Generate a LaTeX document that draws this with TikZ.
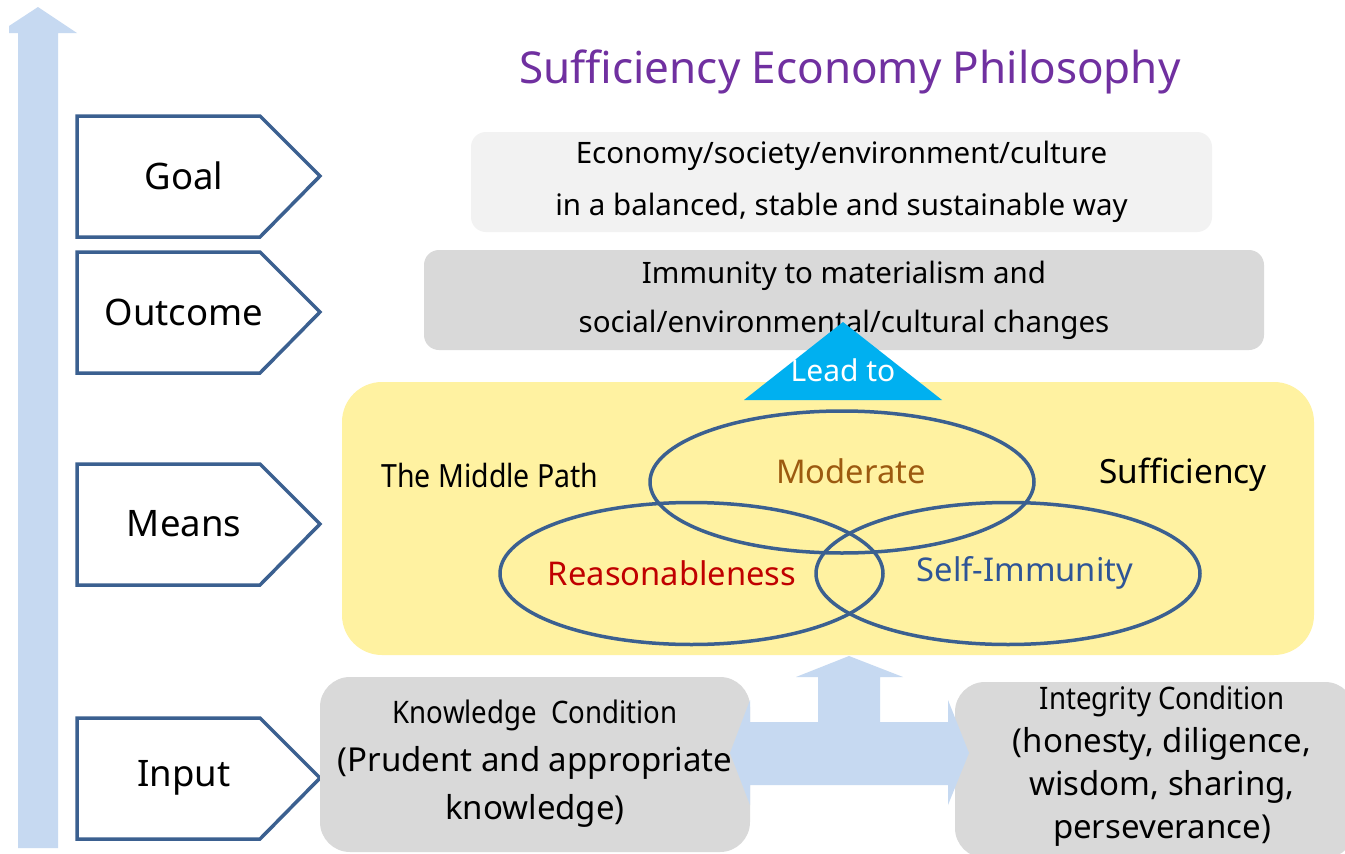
\documentclass[tikz,border=0pt]{standalone}
\usepackage{fontspec}
\setmainfont{Noto Sans}
\newfontfamily\condfont[FakeStretch=0.89]{Noto Sans}
\definecolor{flowblue}{HTML}{C6D9F1}
\definecolor{stepline}{HTML}{3B6090}
\definecolor{goalgrey}{HTML}{F2F2F2}
\definecolor{boxgrey}{HTML}{D9D9D9}
\definecolor{meansyellow}{HTML}{FFF2A1}
\definecolor{leadblue}{HTML}{00B0F0}
\definecolor{titlepurple}{HTML}{7030A0}
\definecolor{modbrown}{HTML}{9C5A10}
\definecolor{reasonred}{HTML}{C00000}
\definecolor{selfblue}{HTML}{2F5597}
\newcommand{\fs}[2]{\fontsize{#1}{#2}\selectfont}
\tikzset{
  stagebox/.style={draw=stepline, line width=3.5pt, fill=white, line join=miter},
  stagetext/.style={font=\fs{36.5}{42}, text=black},
  infobox/.style={rounded corners=15pt, align=center, inner sep=0pt},
  circ/.style={draw=stepline, line width=3.5pt},
  circlabel/.style={font=\fs{32.7}{36}},
}
\begin{document}
\begin{tikzpicture}[x=1pt, y=-1pt]
\useasboundingbox (0,0) rectangle (1345,854);
\fill[white] (0,0) rectangle (1345,854);

% rising arrow on the left
\fill[flowblue] (18,848) -- (18,33) -- (9,33) -- (9,26) -- (38,7) -- (77,33)
  -- (58,33) -- (58,848) -- cycle;

% stage markers
\foreach \nm/\cy/\lab in {goalstage/176/Goal, outstage/312/Outcome, meansstage/524/Means, inputstage/778/Input}{
  \draw[stagebox] (77,\cy-60) -- (260,\cy-60) -- (320,\cy) -- (260,\cy+61) -- (77,\cy+61) -- cycle;
  \node[stagetext] (\nm) at (184,\cy) {\lab};
}

% title
\node[font=\fs{44}{52}, text=titlepurple] (title) at (850,72) {Sufficiency Economy Philosophy};

% goal and outcome boxes
\node[infobox, fill=goalgrey, minimum width=741, minimum height=100, font=\fs{29.5}{52}] (goal) at (841.5,182)
  {Economy/society/environment/culture\\in a balanced, stable and sustainable way};
\node[infobox, fill=boxgrey, minimum width=840, minimum height=100, font=\fs{29.5}{49}] (outcome) at (844,300)
  {Immunity to materialism and\\social/environmental/cultural changes};

% means panel
\node[rounded corners=40pt, fill=meansyellow, minimum width=972, minimum height=273, inner sep=0pt] (means) at (828,518.5) {};

% lead-to triangle
\fill[leadblue] (744,400) -- (843,322) -- (942,400) -- cycle;
\node[font=\fs{30}{34}, text=white] (leadto) at (843,370) {Lead to};

% the three overlapping conditions
\draw[circ] (842,482) ellipse [x radius=192, y radius=71];
\draw[circ] (691.5,573.5) ellipse [x radius=191.5, y radius=71];
\draw[circ] (1008,573.5) ellipse [x radius=192, y radius=71];
\node[circlabel, text=modbrown] (moderate) at (851,471) {Moderate};
\node[circlabel, text=reasonred] (reason) at (672,573) {Reasonableness};
\node[circlabel, text=selfblue] (selfimm) at (1025,573) {Self-Immunity};
\node[font=\condfont\fs{32}{36}] (middle) at (490,475) {The Middle Path};
\node[font=\fs{33.4}{38}] (suff) at (1183,475) {Sufficiency};

% input conditions
\node[rounded corners=30pt, fill=boxgrey, minimum width=430, minimum height=175, inner sep=0pt] (knowbox) at (535,764.5) {};
\node[align=center, font=\fs{33}{48}] (knowtext) at (535,764)
  {{\condfont\fs{31}{48}Knowledge\ \ Condition}\\(Prudent and appropriate\\knowledge)};
\node[rounded corners=30pt, fill=boxgrey, minimum width=400, minimum height=176, inner sep=0pt] (intbox) at (1155,770) {};
\node[align=center, font=\fs{33}{43}] (inttext) at (1162,766)
  {{\condfont\fs{31}{43}Integrity Condition}\\(honesty, diligence,\\wisdom, sharing,\\perseverance)};

% branching arrow between the conditions and up to the means
\fill[flowblue] (730,753) -- (750,700) -- (750,722) -- (818,722) -- (818,677)
  -- (796,677) -- (849,656) -- (903,677) -- (880,677) -- (880,722) -- (948,722)
  -- (948,700) -- (969,753) -- (948,805) -- (948,785) -- (750,785) -- (750,805) -- cycle;
\end{tikzpicture}
\end{document}
